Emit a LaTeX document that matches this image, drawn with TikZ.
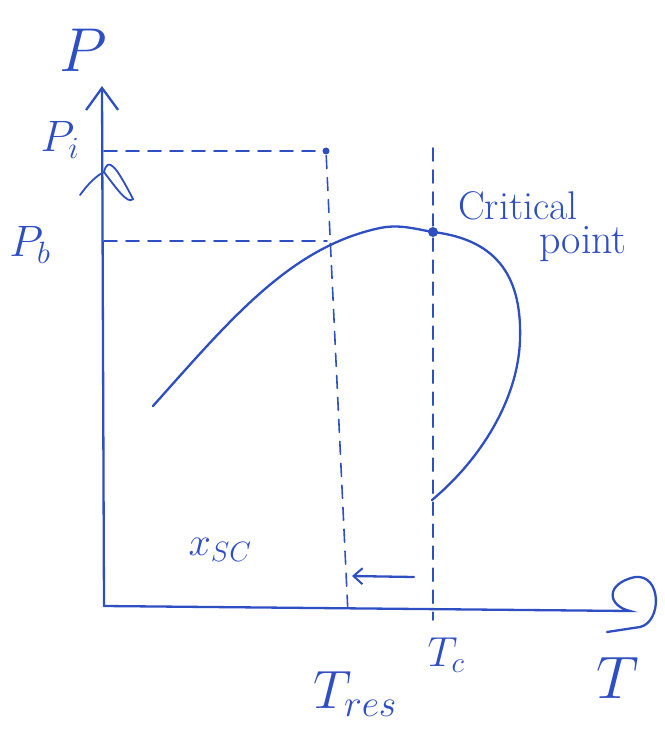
\RequirePackage{fix-cm}
\documentclass[tikz,border=0pt]{standalone}
\usetikzlibrary{arrows.meta}
\definecolor{ink}{RGB}{46,78,196}
\begin{document}
\begin{tikzpicture}[x=1pt,y=-1pt,ink,line width=2.3pt,line cap=round,
  every node/.style={text=ink,inner sep=0pt},
  dot/.style={circle,fill=ink,inner sep=0pt,minimum size=#1},
  guide/.style={line width=1.6pt,dash pattern=on 13pt off 9pt},
  big/.style={font=\fontsize{#1}{#1}\selectfont}]
\useasboundingbox (0,0) rectangle (664,730);
% axes
\coordinate (o) at (104,606);
\coordinate (ytop) at (102,86);
\coordinate (xend) at (630,611);
\draw[-{Straight Barb[length=22pt,width=32pt,line width=2.3pt]}] (o)--(ytop);
\draw (o)--(xend) .. controls (608,606) and (604,584) .. (635,577)
 .. controls (662,574) and (662,622) .. (640,627) -- (607,632);
\node[big=62] (plab) at (83,50) {$P$};
\node[big=60] (tlab) at (618,678) {$T$};
% points and guide lines
\node[dot=7pt] (pi) at (326,151) {};
\node[dot=10pt] (cp) at (433,232) {};
\coordinate (yi) at (104,151);
\coordinate (yb) at (104,241);
\coordinate (xb) at (327,241);
\coordinate (xres) at (348,614);
\coordinate (ctop) at (433,148);
\coordinate (xc) at (433,620);
\draw[guide] (yi)--(pi);
\draw[guide] (yb)--(xb);
\draw[guide] (pi)--(xres);
\draw[guide] (ctop)--(cp)--(xc);
\node[big=44] (pilab) at (60,140) {$P_i$};
\node[big=44] (pblab) at (30,245) {$P_b$};
% pressure drop mark
\draw[line width=1.8pt] (80,195) .. controls (88,184) and (96,176) .. (104,172);
\draw[line width=1.8pt] (104,172) .. controls (108,156) and (116,166) .. (133,199)
 .. controls (128,205) and (116,188) .. (104,172);
% curve
\draw (153,406) .. controls (230,320) and (290,247) .. (380,228)
 .. controls (400,224) and (415,229) .. (cp.center)
 .. controls (500,240) and (522,280) .. (520,340)
 .. controls (518,400) and (480,460) .. (432,500);
\node[big=40] (crit) at (518,206) {Critical};
\node[big=42] (point) at (583,244) {point};
% shift of temperature
\coordinate (ar) at (414,577);
\coordinate (al) at (352,576);
\draw[-{Straight Barb[length=9pt,width=16pt,line width=2pt]}] (ar)--(al);
\node[big=40] (xsc) at (220,550) {$x_{SC}$};
\node[big=54] (treslab) at (355,694) {$T_{res}$};
\node[big=42] (tclab) at (446,655) {$T_c$};
\end{tikzpicture}
\end{document}
